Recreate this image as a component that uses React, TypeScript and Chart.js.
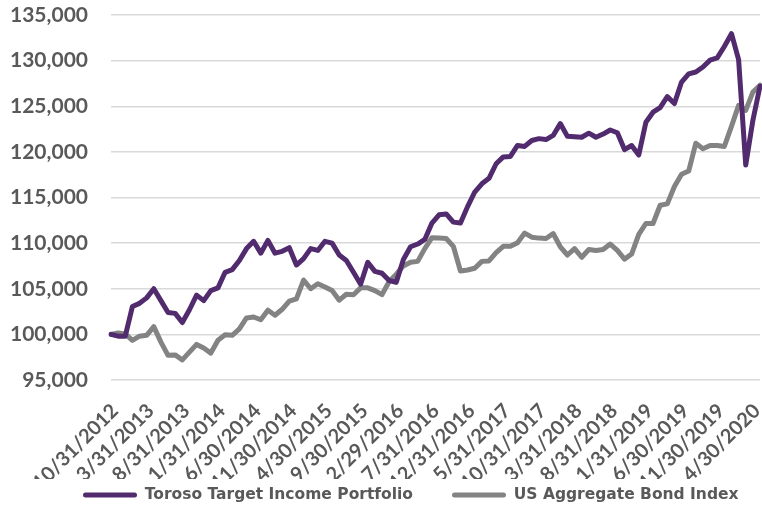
import React, { useEffect, useRef } from "react";
import { Chart, registerables } from "chart.js";

Chart.register(...registerables);

// Month-end dates (categories)
const dates: string[] = [
  "10/31/2012", "11/30/2012", "12/31/2012",
  "1/31/2013", "2/28/2013", "3/31/2013", "4/30/2013", "5/31/2013", "6/30/2013", "7/31/2013", "8/31/2013", "9/30/2013", "10/31/2013", "11/30/2013", "12/31/2013",
  "1/31/2014", "2/28/2014", "3/31/2014", "4/30/2014", "5/31/2014", "6/30/2014", "7/31/2014", "8/31/2014", "9/30/2014", "10/31/2014", "11/30/2014", "12/31/2014",
  "1/31/2015", "2/28/2015", "3/31/2015", "4/30/2015", "5/31/2015", "6/30/2015", "7/31/2015", "8/31/2015", "9/30/2015", "10/31/2015", "11/30/2015", "12/31/2015",
  "1/31/2016", "2/29/2016", "3/31/2016", "4/30/2016", "5/31/2016", "6/30/2016", "7/31/2016", "8/31/2016", "9/30/2016", "10/31/2016", "11/30/2016", "12/31/2016",
  "1/31/2017", "2/28/2017", "3/31/2017", "4/30/2017", "5/31/2017", "6/30/2017", "7/31/2017", "8/31/2017", "9/30/2017", "10/31/2017", "11/30/2017", "12/31/2017",
  "1/31/2018", "2/28/2018", "3/31/2018", "4/30/2018", "5/31/2018", "6/30/2018", "7/31/2018", "8/31/2018", "9/30/2018", "10/31/2018", "11/30/2018", "12/31/2018",
  "1/31/2019", "2/28/2019", "3/31/2019", "4/30/2019", "5/31/2019", "6/30/2019", "7/31/2019", "8/31/2019", "9/30/2019", "10/31/2019", "11/30/2019", "12/31/2019",
  "1/31/2020", "2/29/2020", "3/31/2020", "4/30/2020", "5/31/2020",
];

// Growth of $100,000
const torosoValues: number[] = [
  100000, 99800, 99800, 103050, 103400, 104000, 105000, 103700, 102400, 102300,
  101300, 102700, 104300, 103700, 104800, 105100, 106800, 107100, 108100, 109400,
  110200, 108900, 110300, 108900, 109100, 109500, 107600, 108300, 109400, 109200,
  110200, 110000, 108700, 108100, 106800, 105500, 107900, 106900, 106700, 105900,
  105700, 108200, 109600, 109900, 110400, 112200, 113100, 113200, 112300, 112200,
  114000, 115600, 116500, 117100, 118700, 119450, 119500, 120700, 120600, 121250,
  121450, 121350, 121800, 123100, 121700, 121650, 121600, 122050, 121600, 121950,
  122400, 122100, 120250, 120700, 119650, 123250, 124350, 124850, 126050, 125300,
  127650, 128550, 128750, 129300, 130050, 130300, 131550, 132950, 130100, 118550,
  123450, 127200,
];

const bondIndexValues: number[] = [
  100000, 100150, 100050, 99350, 99800, 99900, 100850, 99150, 97700, 97750,
  97200, 98050, 98900, 98500, 97950, 99350, 99950, 99900, 100600, 101800,
  101900, 101600, 102650, 102100, 102750, 103650, 103900, 105950, 105000, 105550,
  105200, 104800, 103750, 104400, 104350, 105100, 105100, 104800, 104350, 105800,
  106600, 107500, 107900, 108000, 109400, 110600, 110550, 110500, 109650, 106950,
  107050, 107250, 108000, 108050, 108950, 109650, 109650, 110050, 111100, 110650,
  110550, 110500, 111050, 109600, 108700, 109400, 108450, 109300, 109200, 109300,
  109900, 109200, 108250, 108800, 110950, 112150, 112150, 114150, 114300, 116200,
  117550, 117900, 120950, 120350, 120700, 120700, 120600, 122800, 125100, 124550,
  126550, 127300,
];

const seriesNames: string[] = ["Toroso Target Income Portfolio", "US Aggregate Bond Index"];
const seriesColors: string[] = ["#512b6e", "#838383"];

const yMin = 95000;
const yMax = 135000;
const yStep = 5000;
const xLabelEvery = 5;

const TEXT_COLOR = "#595959";
const LEGEND_PAD = 39;
const LEGEND_START_X = 83;
const LEGEND_CENTER_Y = 495;
const LEGEND_FONT = 15.5;

export default function App() {
  const canvasRef = useRef<HTMLCanvasElement>(null);

  useEffect(() => {
    if (!canvasRef.current) return;

    const legendShift = {
      id: "legendShift",
      afterLayout(chart: any) {
        const lg = chart.legend;
        if (!lg) return;
        const dx = LEGEND_START_X - (lg.left + LEGEND_PAD);
        lg.left += dx;
        lg.right += dx;
        const dy = LEGEND_CENTER_Y - (lg.top + LEGEND_PAD + LEGEND_FONT / 2);
        lg.top += dy;
      },
    };

    const chart = new Chart(canvasRef.current, {
      type: "line",
      data: {
        labels: dates,
        datasets: [
          {
            label: seriesNames[0],
            data: torosoValues,
            borderColor: seriesColors[0],
            backgroundColor: seriesColors[0],
            borderWidth: 5,
            pointRadius: 0,
            tension: 0,
            fill: false,
            borderJoinStyle: "round",
            borderCapStyle: "round",
          },
          {
            label: seriesNames[1],
            data: bondIndexValues,
            borderColor: seriesColors[1],
            backgroundColor: seriesColors[1],
            borderWidth: 5,
            pointRadius: 0,
            tension: 0,
            fill: false,
            borderJoinStyle: "round",
            borderCapStyle: "round",
          },
        ],
      },
      options: {
        responsive: true,
        maintainAspectRatio: false,
        animation: false,
        layout: { padding: { left: 10, right: 2, top: 0, bottom: 0 } },
        plugins: {
          tooltip: { enabled: false },
          legend: {
            position: "bottom",
            align: "start",
            maxHeight: 30,
            labels: {
              boxWidth: 54,
              boxHeight: 5,
              padding: LEGEND_PAD,
              color: TEXT_COLOR,
              useBorderRadius: true,
              borderRadius: 2.5,
              font: { family: "'DejaVu Sans', sans-serif", size: LEGEND_FONT, weight: "bold" },
              generateLabels: (c: any) =>
                Chart.defaults.plugins.legend.labels
                  .generateLabels(c)
                  .map((it: any) => ({ ...it, lineWidth: 0 })),
            },
          },
        },
        scales: {
          x: {
            type: "category",
            offset: false,
            grid: { display: false, drawTicks: false },
            border: { display: false },
            ticks: {
              autoSkip: false,
              minRotation: 45,
              maxRotation: 45,
              padding: 19,
              labelOffset: 4,
              color: TEXT_COLOR,
              font: { family: "Lato, sans-serif", size: 20, weight: "bold" },
              callback: function (this: any, value: any, index: number) {
                return index % xLabelEvery === 0 ? this.getLabelForValue(value) : "";
              },
            },
            afterFit: (scale: any) => {
              scale.paddingRight = 0;
              scale.height = 99;
            },
          },
          y: {
            min: yMin,
            max: yMax,
            grid: { color: "#d9d9d9", lineWidth: 1.5, drawTicks: false },
            border: { display: false },
            ticks: {
              stepSize: yStep,
              padding: 23,
              color: TEXT_COLOR,
              font: { family: "Lato, sans-serif", size: 21, weight: "bold" },
              callback: (v: any) => Number(v).toLocaleString("en-US"),
            },
            afterFit: (scale: any) => {
              scale.width = 101;
              scale.paddingTop = 15;
              scale.paddingBottom = 0;
            },
          },
        },
      },
      plugins: [legendShift],
    });

    return () => chart.destroy();
  }, []);

  return (
    <div style={{ position: "fixed", left: 0, top: 0, width: 762, height: 509, background: "#fff" }}>
      <canvas ref={canvasRef} />
    </div>
  );
}
